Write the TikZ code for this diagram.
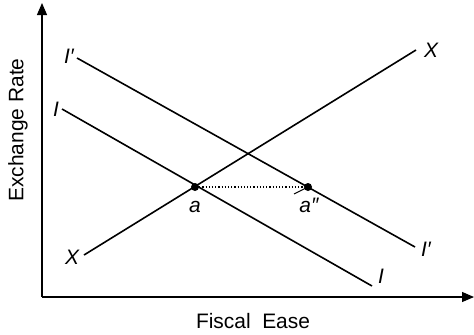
\documentclass[tikz,border=0pt]{standalone}
\usepackage{fontspec}
\setmainfont{Liberation Sans}
\usetikzlibrary{arrows.meta}
\begin{document}
\begin{tikzpicture}[x=1bp,y=-1bp,
  curve/.style={line width=1.6bp},
  axis/.style={line width=1.2bp,-{Triangle[length=12bp,width=10bp]}},
  lbl/.style={font=\fontsize{21}{24}\selectfont\itshape,inner sep=0pt},
  ttl/.style={font=\fontsize{21}{24}\selectfont,inner sep=0pt},
  pt/.style={circle,fill=black,inner sep=0pt,minimum size=8bp}]
\useasboundingbox (0,0) rectangle (474,334);
\coordinate (O) at (42,297);
\coordinate (Ytop) at (42,3);
\coordinate (Xend) at (474,297);
\draw[axis] (O) -- (Ytop);
\draw[axis] (O) -- (Xend);
% curves
\coordinate (X1) at (84,255); \coordinate (X2) at (416,50);
\coordinate (Ip1) at (77,58); \coordinate (Ip2) at (415,247);
\coordinate (I1) at (62,109); \coordinate (I2) at (372,286);
\draw[curve] (X1) -- (X2);
\draw[curve] (Ip1) -- (Ip2);
\draw[curve] (I1) -- (I2);
\node[pt] (a) at (195,187) {};
\node[pt] (a2) at (308,187) {};
\draw[line width=1.2bp,dotted] (a) -- (a2);
\coordinate (t1) at (294,194);
\draw[line width=1bp] (t1) -- (a2.center);
% labels
\node[lbl] (lX1) at (72,257) {X};
\node[lbl] (lX2) at (431,50) {X};
\node[lbl] (lIp1) at (69,56) {I\char"2032};
\node[lbl] (lIp2) at (426,249) {I\char"2032};
\node[lbl] (lI1) at (56,109) {I};
\node[lbl] (lI2) at (381,276) {I};
\node[lbl,anchor=base] (la) at (195,212) {a};
\node[lbl,anchor=base] (la2) at (309,212) {a\char"2033};
\node[ttl,rotate=90] (ylab) at (18,130) {Exchange Rate};
\node[ttl,anchor=base] (xlab) at (253,328) {Fiscal\ \ Ease};
\end{tikzpicture}
\end{document}
